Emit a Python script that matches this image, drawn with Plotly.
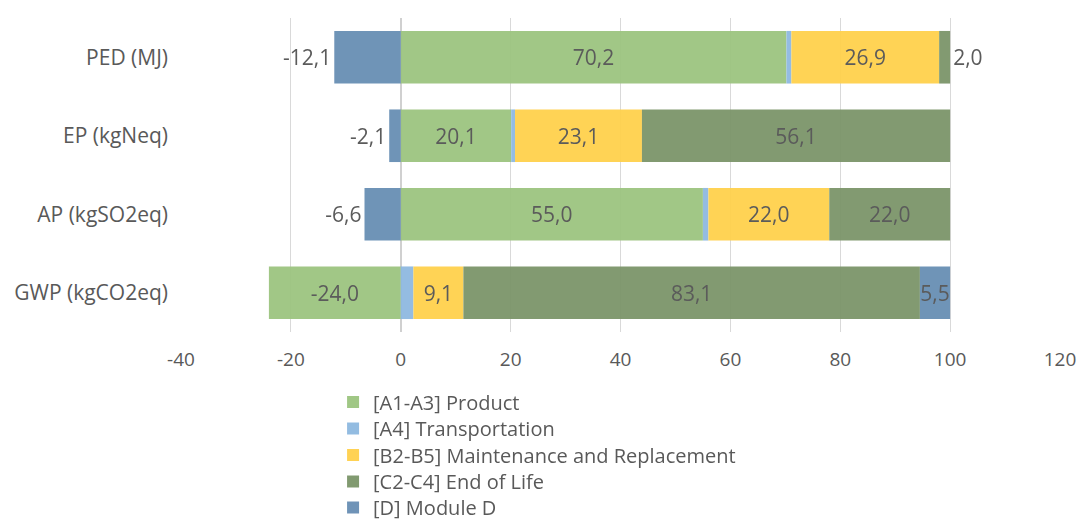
import plotly.graph_objects as go

categories = ["GWP (kgCO2eq)", "AP (kgSO2eq)", "EP (kgNeq)", "PED (MJ)"]
product = [-24.0, 55.0, 20.1, 70.2]
transport = [2.3, 1.0, 0.7, 0.9]
maintenance = [9.1, 22.0, 23.1, 26.9]
end_of_life = [83.1, 22.0, 56.1, 2.0]
module_d = [5.5, -6.6, -2.1, -12.1]
x_ticks = [-40, -20, 0, 20, 40, 60, 80, 100, 120]
x_tick_labels = ["-40", "-20", "0", "20", "40", "60", "80", "100", "120"]

series = [
    ("[A1-A3] Product", product, "#9bc47e", True, ["inside"] * 4),
    ("[A4] Transportation", transport, "#8db8e0", False, ["inside"] * 4),
    ("[B2-B5] Maintenance and Replacement", maintenance, "#ffd04a", True, ["inside"] * 4),
    ("[C2-C4] End of Life", end_of_life, "#7a9468", True, ["inside", "inside", "inside", "outside"]),
    ("[D] Module D", module_d, "#668db3", True, ["inside", "outside", "outside", "outside"]),
]

FONT = "Open Sans"
TXT = "#595959"
PLOT_TOP, PLOT_BOTTOM = 18, 332
legend_rows_px = [402, 428.5, 455, 481.5, 507.5]

fig = go.Figure()
for i, (name, vals, color, show_text, tpos) in enumerate(series):
    fig.add_trace(go.Bar(
        y=categories, x=vals, name=name, orientation="h",
        marker=dict(color=color, line=dict(width=0)),
        opacity=0.94,
        texttemplate="%{x:.1f}" if show_text else None,
        textposition=tpos if show_text else "none",
        insidetextanchor="middle",
        constraintext="none",
        textangle=0,
        textfont=dict(family=FONT, size=21, color="#505050"),
        outsidetextfont=dict(family=FONT, size=21, color="#505050"),
        cliponaxis=False,
        showlegend=True,
        legend="legend" if i == 0 else f"legend{i + 1}",
    ))

legend_layout = {}
for i, ypx in enumerate(legend_rows_px):
    key = "legend" if i == 0 else f"legend{i + 1}"
    legend_layout[key] = dict(
        orientation="v", x=0.173, xanchor="left",
        y=(PLOT_BOTTOM - ypx) / (PLOT_BOTTOM - PLOT_TOP), yanchor="middle",
        font=dict(family=FONT, size=20, color=TXT),
        itemwidth=30, bgcolor="rgba(0,0,0,0)", borderwidth=0,
    )

fig.update_layout(
    width=1079, height=520,
    showlegend=True,
    barmode="relative",
    bargap=0.33,
    separators=", ",
    paper_bgcolor="white", plot_bgcolor="white",
    margin=dict(l=181, r=19, t=PLOT_TOP, b=520 - PLOT_BOTTOM, autoexpand=False),
    font=dict(family=FONT, size=19, color=TXT),
    xaxis=dict(
        range=[-40, 120], tickvals=x_ticks, ticktext=x_tick_labels, showgrid=True,
        gridcolor="#d9d9d9", gridwidth=1, automargin=False,
        zeroline=True, zerolinecolor="#d0d0d0", zerolinewidth=2,
        showline=False, ticks="", ticklabelstandoff=14,
        tickfont=dict(family=FONT, size=19, color=TXT),
    ),
    yaxis=dict(
        categoryorder="array", categoryarray=categories, automargin=False,
        showgrid=False, showline=False, ticks="", ticklabelstandoff=12,
        tickfont=dict(family=FONT, size=21, color=TXT),
    ),
    **legend_layout,
)

fig.write_html("out.html")
